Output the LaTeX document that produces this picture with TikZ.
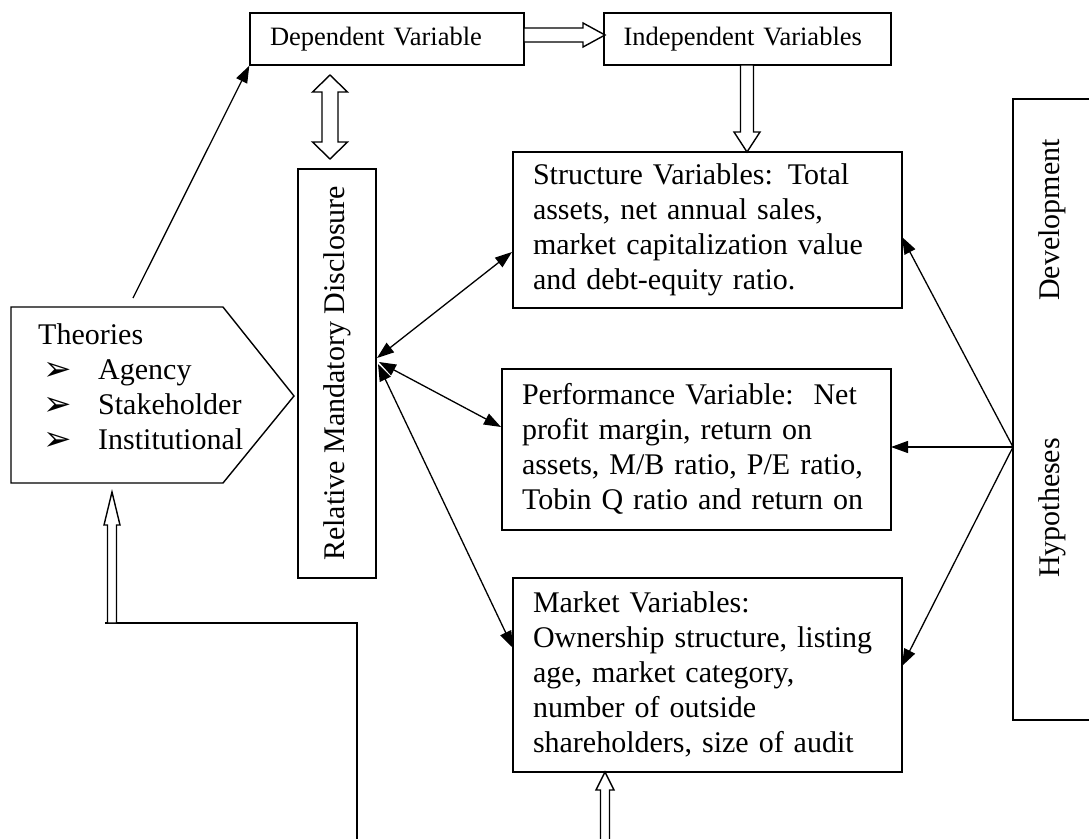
\documentclass[tikz,border=0pt]{standalone}
\usepackage{fontspec}
\setmainfont{Liberation Serif}
\newfontfamily\dejavu{DejaVu Sans}
\usetikzlibrary{arrows.meta,calc}

% single hollow arrow: from, to, shaft half width, head half width, head length
\newcommand{\hollowarr}[5]{%
  \path (#1) coordinate (ha) (#2) coordinate (hb);
  \path ($(hb)!#5!(ha)$) coordinate (hc);
  \draw[hollow] ($(ha)!#3!90:(hb)$) -- ($(hc)!#3!-90:(ha)$) -- ($(hc)!#4!-90:(ha)$) -- (hb)
     -- ($(hc)!#4!90:(ha)$) -- ($(hc)!#3!90:(ha)$) -- ($(ha)!#3!-90:(hb)$) -- cycle;}
% double hollow arrow
\newcommand{\dhollowarr}[5]{%
  \path (#1) coordinate (ha) (#2) coordinate (hb);
  \path ($(hb)!#5!(ha)$) coordinate (hc) ($(ha)!#5!(hb)$) coordinate (hd);
  \draw[hollow] (ha) -- ($(hd)!#4!90:(hb)$) -- ($(hd)!#3!90:(hb)$) -- ($(hc)!#3!-90:(ha)$)
     -- ($(hc)!#4!-90:(ha)$) -- (hb) -- ($(hc)!#4!90:(ha)$) -- ($(hc)!#3!90:(ha)$)
     -- ($(hd)!#3!-90:(hb)$) -- ($(hd)!#4!-90:(hb)$) -- cycle;}
\newcommand{\arrbullet}{\hspace*{5pt}\makebox[55pt][l]{\raisebox{-1pt}{\dejavu\fontsize{34}{34}\selectfont ➢}}}

\begin{document}
\begin{tikzpicture}[x=1pt,y=-1pt,
  box/.style={draw, line width=1.4pt, inner sep=0pt, align=left},
  body/.style={font=\fontsize{30}{35}\selectfont},
  small/.style={font=\fontsize{26.5}{31}\selectfont},
  thin/.style={line width=1.3pt},
  arr/.style={thin, -{Triangle[length=17pt,width=12pt]}},
  darr/.style={thin, {Triangle[length=17pt,width=12pt]}-{Triangle[length=17pt,width=12pt]}},
  hollow/.style={draw, line width=1.4pt, fill=white, line join=miter}]
\useasboundingbox (0,0) rectangle (1089,838);

% boxes
\node[box, small, minimum width=274pt, minimum height=52pt, text width=234pt] (dep) at (387,39) {Dependent Variable};
\node[box, small, minimum width=287pt, minimum height=52pt, text width=248pt] (indep) at (747.5,39) {Independent Variables};
\node[box, body, rotate=90, minimum width=409pt, minimum height=78pt, align=center] (rmd) at (337,373.5) {Relative Mandatory Disclosure};
\node[box, body, minimum width=389pt, minimum height=156pt, text width=349pt] (struct) at (707.5,230)
  {\strut Structure Variables: Total\\ assets, net annual sales,\\ market capitalization value\\ and debt-equity ratio.\strut};
\node[box, body, minimum width=389pt, minimum height=161pt, text width=349pt] (perf) at (696.5,449.5)
  {\strut Performance Variable:\ \ Net\\ profit margin, return on\\ assets, M/B ratio, P/E ratio,\\ Tobin Q ratio and return on\strut};
\node[box, body, minimum width=389pt, minimum height=194pt, text width=349pt] (market) at (707.5,675)
  {\strut Market Variables:\\ Ownership structure, listing\\ age, market category,\\ number of outside\\ shareholders, size of audit\strut};
\node[box, minimum width=100pt, minimum height=621pt] (hyp) at (1063,409.5) {};
\node[body, rotate=90, inner sep=0pt] (dev) at (1052,220) {Development};
\node[body, rotate=90, inner sep=0pt] (hypo) at (1052,508) {Hypotheses};

% theories pentagon
\draw[line width=1.4pt] (11,307) coordinate (thNW) -- (223,307) -- (294,396) coordinate (thTip) -- (223,483) -- (11,483) -- cycle;
\node[body, anchor=north west, inner sep=0pt, align=left] (theories) at (38,319.5)
  {\strut Theories\\
   \arrbullet Agency\\
   \arrbullet Stakeholder\\
   \arrbullet Institutional};

% connector end points
\coordinate (thA) at (133,298);
\coordinate (rmdS) at (377,358);
\coordinate (rmdP) at (379,362);
\coordinate (rmdM) at (378,364);
\coordinate (structW) at (512,252);
\coordinate (perfW) at (501,427);
\coordinate (marketW) at (513,648);
\coordinate (hypJ) at (1013,447);
\coordinate (structE) at (902,237);
\coordinate (perfE) at (891,447);
\coordinate (marketE) at (902,666);

% thin arrows
\draw[arr] (thA) -- (dep.south west);
\draw[darr] (rmdS) -- (structW);
\draw[darr] (rmdP) -- (perfW);
\draw[darr] (rmdM) -- (marketW);
\draw[arr] (hypJ) -- (structE);
\draw[arr] (hypJ) -- (perfE);
\draw[arr] (hypJ) -- (marketE);

% hollow arrows
\coordinate (da1) at (524,35);
\coordinate (da2) at (605,35);
\hollowarr{da1}{da2}{7pt}{12pt}{22pt}
\coordinate (v1) at (330,75);
\coordinate (v2) at (330,159);
\dhollowarr{v1}{v2}{8pt}{17.5pt}{17pt}
\coordinate (i1) at (747,65);
\coordinate (i2) at (747,152);
\hollowarr{i1}{i2}{6.5pt}{13pt}{20pt}
\coordinate (bl1) at (357,845);
\coordinate (bl2) at (357,623);
\coordinate (bl3) at (105,623);
\draw[thin] (bl1) -- (bl2) -- (bl3);
\coordinate (t1) at (112,623);
\coordinate (t2) at (112,492);
\hollowarr{t1}{t2}{4.5pt}{8pt}{33pt}
\coordinate (m1) at (605,845);
\coordinate (m2) at (605,772);
\hollowarr{m1}{m2}{4.5pt}{9pt}{18pt}
\end{tikzpicture}
\end{document}
